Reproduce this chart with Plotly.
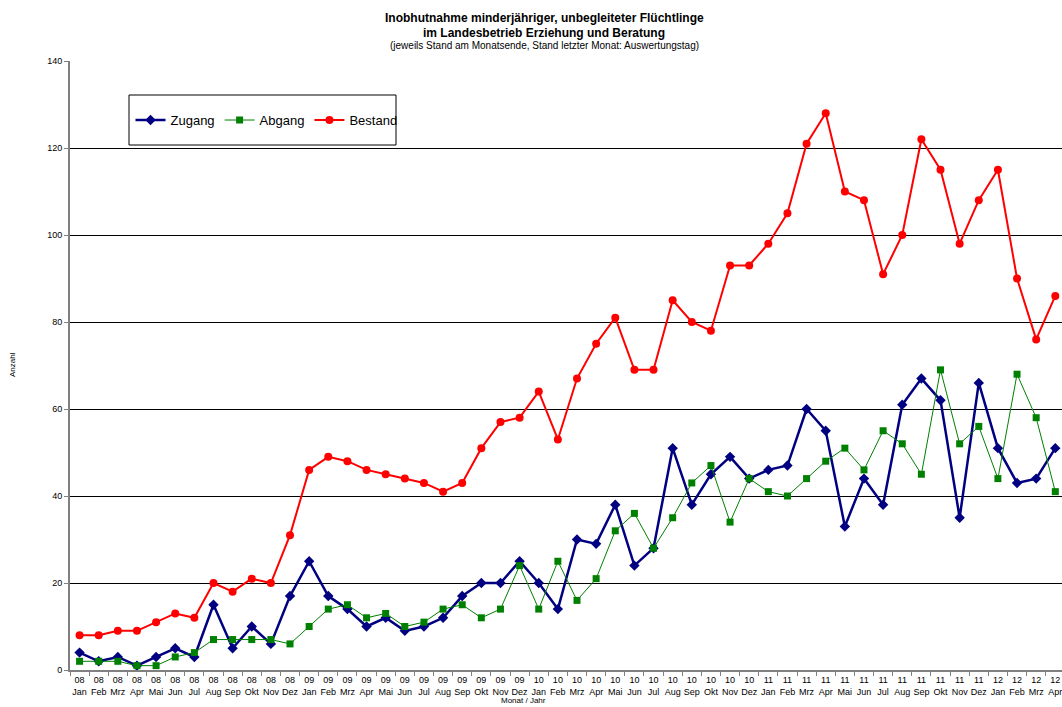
import plotly.graph_objects as go

years = ["08"] * 12 + ["09"] * 12 + ["10"] * 12 + ["11"] * 12 + ["12"] * 4
months_cycle = ["Jan", "Feb", "Mrz", "Apr", "Mai", "Jun", "Jul", "Aug", "Sep", "Okt", "Nov", "Dez"]
months = (months_cycle * 5)[:52]
categories = [f"{y} {m}" for y, m in zip(years, months)]
tick_labels = [f"{y}<br>{m}" for y, m in zip(years, months)]

zugang = [4, 2, 3, 1, 3, 5, 3, 15, 5, 10, 6, 17,
          25, 17, 14, 10, 12, 9, 10, 12, 17, 20, 20, 25,
          20, 14, 30, 29, 38, 24, 28, 51, 38, 45, 49, 44,
          46, 47, 60, 55, 33, 44, 38, 61, 67, 62, 35, 66,
          51, 43, 44, 51]
abgang = [2, 2, 2, 1, 1, 3, 4, 7, 7, 7, 7, 6,
          10, 14, 15, 12, 13, 10, 11, 14, 15, 12, 14, 24,
          14, 25, 16, 21, 32, 36, 28, 35, 43, 47, 34, 44,
          41, 40, 44, 48, 51, 46, 55, 52, 45, 69, 52, 56,
          44, 68, 58, 41]
bestand = [8, 8, 9, 9, 11, 13, 12, 20, 18, 21, 20, 31,
           46, 49, 48, 46, 45, 44, 43, 41, 43, 51, 57, 58,
           64, 53, 67, 75, 81, 69, 69, 85, 80, 78, 93, 93,
           98, 105, 121, 128, 110, 108, 91, 100, 122, 115, 98, 108,
           115, 90, 76, 86]

FONT = "Liberation Sans, Arial, sans-serif"

fig = go.Figure()
fig.add_trace(go.Scatter(x=categories, y=zugang, name="Zugang", mode="lines+markers",
                         line=dict(color="#000080", width=2.5),
                         marker=dict(symbol="diamond", size=8, color="#000080")))
fig.add_trace(go.Scatter(x=categories, y=abgang, name="Abgang", mode="lines+markers",
                         line=dict(color="#008000", width=1),
                         marker=dict(symbol="square", size=7, color="#008000")))
fig.add_trace(go.Scatter(x=categories, y=bestand, name="Bestand", mode="lines+markers",
                         line=dict(color="#FF0000", width=2),
                         marker=dict(symbol="circle", size=8, color="#FF0000")))

fig.update_layout(
    width=1062, height=707,
    margin=dict(l=70, r=0, t=61, b=37),
    paper_bgcolor="white", plot_bgcolor="white",
    font=dict(family=FONT, color="black", size=9),
    showlegend=True,
    legend=dict(orientation="h", x=0.061, y=0.903, xanchor="left", yanchor="middle",
                font=dict(size=13, family=FONT), bgcolor="rgba(0,0,0,0)",
                borderwidth=0, itemwidth=30, tracegroupgap=0),
    xaxis=dict(type="category", categoryorder="array", categoryarray=categories,
               tickmode="array", tickvals=categories, ticktext=tick_labels,
               tickson="boundaries", ticks="outside", ticklen=4, tickcolor="#808080",
               showline=True, linecolor="#808080", linewidth=2,
               showgrid=False, range=[-0.5, 51.35], tickangle=0,
               tickfont=dict(size=9, family=FONT)),
    yaxis=dict(range=[0, 140], tickvals=[0, 20, 40, 60, 80, 100, 120, 140],
               ticks="outside", ticklen=4, tickcolor="#808080",
               showline=True, linecolor="#808080", linewidth=2,
               showgrid=True, gridcolor="black", gridwidth=1, zeroline=False,
               tickfont=dict(size=9, family=FONT)),
    shapes=[dict(type="rect", xref="paper", yref="paper",
                 x0=(129 - 70) / 992, x1=(396 - 70) / 992,
                 y0=(670 - 145) / 609, y1=(670 - 95) / 609,
                 line=dict(color="black", width=1), fillcolor="white", layer="below")],
    annotations=[
        dict(text="<b>Inobhutnahme minderjähriger, unbegleiteter Flüchtlinge</b>",
             xref="paper", yref="paper", x=(544 - 70) / 992, y=(670 - 18) / 609,
             xanchor="center", yanchor="middle", showarrow=False,
             font=dict(size=12, family=FONT)),
        dict(text="<b>im Landesbetrieb Erziehung und Beratung</b>",
             xref="paper", yref="paper", x=(544 - 70) / 992, y=(670 - 33) / 609,
             xanchor="center", yanchor="middle", showarrow=False,
             font=dict(size=12, family=FONT)),
        dict(text="(jeweils Stand am Monatsende, Stand letzter Monat: Auswertungstag)",
             xref="paper", yref="paper", x=(544 - 70) / 992, y=(670 - 46) / 609,
             xanchor="center", yanchor="middle", showarrow=False,
             font=dict(size=10, family=FONT)),
        dict(text="Anzahl", xref="paper", yref="paper", x=(13 - 70) / 992, y=(670 - 365) / 609,
             textangle=-90, xanchor="center", yanchor="middle", showarrow=False,
             font=dict(size=8, family=FONT)),
        dict(text="Monat / Jahr", xref="paper", yref="paper", x=(523 - 70) / 992, y=(670 - 707) / 609,
             xanchor="center", yanchor="bottom", showarrow=False,
             font=dict(size=8, family=FONT)),
    ],
)

fig.write_html("out.html", config={"displayModeBar": False},
               post_script="document.body.style.margin='0';document.body.style.overflow='hidden';")
